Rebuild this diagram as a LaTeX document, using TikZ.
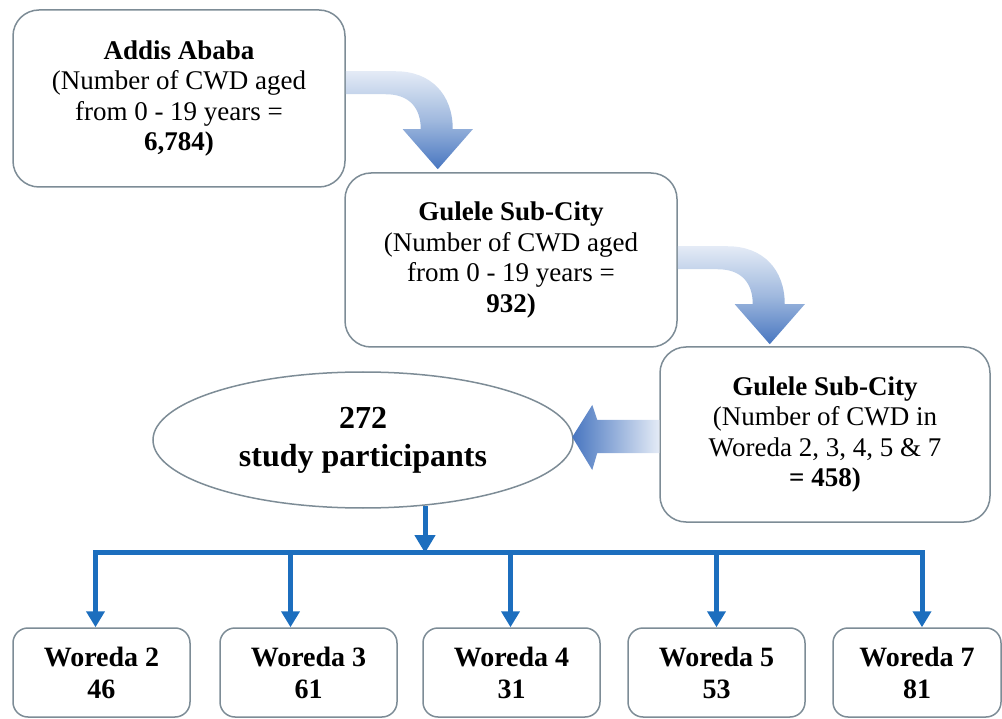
\documentclass[tikz,border=0pt]{standalone}
\usepackage{fontspec}
\setmainfont{Liberation Serif}
\usetikzlibrary{shapes.geometric,arrows.meta,calc}
\definecolor{boxline}{RGB}{125,140,150}
\definecolor{treeblue}{RGB}{28,110,190}
\definecolor{arlight}{RGB}{228,235,246}
\definecolor{armid}{RGB}{160,185,222}
\definecolor{ardark}{RGB}{72,118,192}
\begin{document}
\begin{tikzpicture}[x=1pt,y=-1pt,
  bigbox/.style={draw=boxline, line width=1.5pt, rounded corners=26pt, fill=white,
    align=center, inner sep=0pt, font=\fontsize{27}{30.5}\selectfont},
  smallbox/.style={draw=boxline, line width=1.5pt, rounded corners=15pt, fill=white,
    align=center, inner sep=0pt, minimum width=177pt, minimum height=89pt,
    font=\fontsize{28}{32}\selectfont\bfseries},
  ovalbox/.style={draw=boxline, line width=1.5pt, ellipse, fill=white, align=center,
    inner sep=0pt, minimum width=420pt, minimum height=136pt,
    font=\fontsize{32}{38}\selectfont\bfseries},
  tree/.style={draw=treeblue, line width=5pt},
  treearrow/.style={tree, -{Triangle[width=18pt,length=16pt]}},
  curvearrow/.pic={
    \shade[top color=arlight, bottom color=ardark, middle color=armid]
      (0,0) -- (50,0) .. controls (85,0) and (107,23) .. (107,58)
      -- (127,58) -- (92,98) -- (57,58) -- (75,58)
      .. controls (75,36) and (63,23) .. (40,23) -- (0,23) -- cycle;
  }
]
\useasboundingbox (0,0) rectangle (1002,719);

% main boxes
\node[bigbox, minimum width=332pt, minimum height=177pt] (A) at (179,98.5)
  {\textbf{Addis Ababa}\\(Number of CWD aged\\from 0 - 19 years =\\\textbf{6,784)}};
\node[bigbox, minimum width=332pt, minimum height=174pt] (B) at (511,260)
  {\textbf{Gulele Sub-City}\\(Number of CWD aged\\from 0 - 19 years =\\\textbf{932)}};
\node[bigbox, minimum width=330pt, minimum height=175pt] (C) at (825,434.5)
  {\textbf{Gulele Sub-City}\\(Number of CWD in\\Woreda 2, 3, 4, 5 \& 7\\\textbf{= 458)}};
\node[ovalbox] (E) at (363,440) {272\\study participants};

% block arrows
\pic at ($(A.north east)+(0,62)$) {curvearrow};
\pic at ($(B.north east)+(0,74)$) {curvearrow};
\begin{scope}[shift={(C.west)}]
  \shade[left color=ardark, right color=arlight]
    (0,-14.5) -- (-62,-14.5) -- (-67,-29.5) -- (-87,2.5) -- (-67,35.5)
    -- (-62,18.5) -- (0,18.5) -- cycle;
\end{scope}

% woreda boxes
\node[smallbox] (W1) at (101.5,672.5) {Woreda 2\\46};
\node[smallbox] (W2) at (308.5,672.5) {Woreda 3\\61};
\node[smallbox] (W3) at (511.5,672.5) {Woreda 4\\31};
\node[smallbox] (W4) at (716.5,672.5) {Woreda 5\\53};
\node[smallbox, minimum width=168pt] (W5) at (917,672.5) {Woreda 7\\81};

% tree
\coordinate (J) at (425,553);
\draw[tree, -{Triangle[width=20pt,length=18pt]}] (E.south -| J) ++(0,-3) -- (J);
\coordinate (L) at ($(W1.north)+(-6,-75)$);
\coordinate (R) at ($(W5.north)+(5,-75)$);
\draw[tree, line cap=rect] (L) -- (R);
\draw[treearrow] (L) -- ($(W1.north)+(-6,0)$);
\draw[treearrow] ($(W2.north)+(-18,-75)$) -- ($(W2.north)+(-18,0)$);
\draw[treearrow] ($(W3.north)+(-1,-75)$) -- ($(W3.north)+(-1,0)$);
\draw[treearrow] ($(W4.north)+(0,-75)$) -- ($(W4.north)+(0,0)$);
\draw[treearrow] (R) -- ($(W5.north)+(5,0)$);
\end{tikzpicture}
\end{document}
